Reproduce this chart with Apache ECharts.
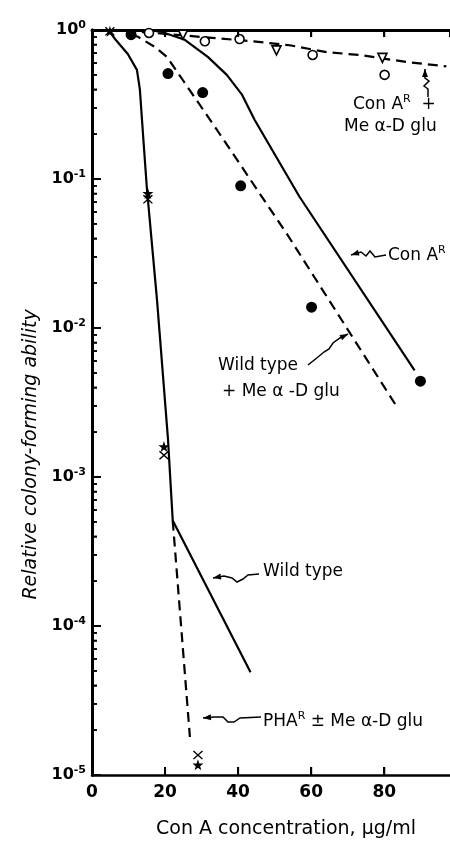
<!DOCTYPE html>
<html>
<head>
<meta charset="utf-8">
<script src="https://cdn.jsdelivr.net/npm/echarts@6/dist/echarts.min.js"></script>
<style>
  html, body { margin: 0; background: #fff; }
  #chart { width: 450px; height: 844px; }
</style>
</head>
<body>
<div id="chart"></div>
<script>
// values: [Con A ug/ml, relative colony-forming ability]
const wildTypeCurve = [[4.9, 0.97], [6.3, 0.87], [9.8, 0.69], [12.3, 0.54], [13.1, 0.40], [13.9, 0.21], [15.0, 0.088], [17.8, 0.0154], [20.8, 0.0018], [22.1, 0.00051], [43.4, 0.000049]];
const phaCurve = [[22.1, 0.00051], [26.8, 0.000018]];
const wildMeCurve = [[10.7, 0.93], [12.6, 0.90], [17.2, 0.77], [20.5, 0.66], [24.9, 0.46], [34.4, 0.21], [53.3, 0.043], [83.3, 0.0030]];
const conACurve = [[15.6, 1.0], [19.1, 0.97], [25.4, 0.86], [31.7, 0.66], [36.9, 0.50], [41.0, 0.37], [44.5, 0.25], [56.8, 0.076], [88.3, 0.0052]];
const conAMeCurve = [[4.9, 1.0], [16, 0.96], [29.5, 0.90], [44, 0.84], [54.1, 0.79], [64.2, 0.71], [73.2, 0.68], [86.1, 0.61], [97, 0.57]];

const openCircles = [[15.6, 0.955], [30.9, 0.84], [40.4, 0.87], [60.4, 0.68], [80.1, 0.50]];
const openTriangles = [[24.9, 0.93], [50.5, 0.73], [79.5, 0.65]];
const filledCircles = [[10.7, 0.93], [20.8, 0.51], [30.3, 0.38], [40.7, 0.090], [60.1, 0.0138], [89.9, 0.0044]];
const wildTypeX = [[4.9, 0.98], [15.3, 0.073], [19.7, 0.0014], [29.0, 0.0000136]];
const phaStars = [[4.9, 0.98], [15.3, 0.080], [19.7, 0.0016], [29.0, 0.0000117]];

const xTicks = [0, 20, 40, 60, 80];
const yTicks = [1e-5, 1e-4, 1e-3, 1e-2, 1e-1, 1];
const xMin = 0, xMax = 98, xStep = 20;
const yMin = 1e-5, yMax = 1;

// minor ticks 2..9 in every decade
const minorTicks = [];
for (let d = -5; d < 0; d++) {
    for (let m = 2; m <= 9; m++) minorTicks.push(m * Math.pow(10, d));
}

const font = 'DejaVu Sans';
const black = '#000';

function lineSeries(data, dashed) {
    return {
        type: 'line', data: data, showSymbol: false, silent: true, z: 2,
        lineStyle: { color: black, width: 2.2, type: dashed ? [10, 6] : 'solid' }
    };
}

function scatterSeries(data, symbol, size, fill, extra) {
    return Object.assign({
        type: 'scatter', data: data, symbol: symbol, symbolSize: size, z: 4, silent: true,
        itemStyle: { color: fill, borderColor: black, borderWidth: fill === '#fff' ? 1.6 : 0, opacity: 1 }
    }, extra || {});
}

// squiggly pointer arrows, tip first
function arrow(pts) {
    const [tx, ty] = pts[0], [nx, ny] = pts[1];
    const len = Math.hypot(tx - nx, ty - ny);
    const ux = (tx - nx) / len, uy = (ty - ny) / len;
    const bx = tx - ux * 8, by = ty - uy * 8;
    return [
        { type: 'polyline', silent: true, z: 10, shape: { points: pts }, style: { stroke: black, lineWidth: 1.5, fill: null } },
        { type: 'polygon', silent: true, z: 10, shape: { points: [[tx, ty], [bx - uy * 3, by + ux * 3], [bx + uy * 3, by - ux * 3]] }, style: { fill: black } }
    ];
}

const rich = {
    n: { fontFamily: font, fontSize: 17, lineHeight: 22, color: black },
    s: { fontFamily: font, fontSize: 11, lineHeight: 12, verticalAlign: 'top', color: black }
};

function label(x, y, text) {
    return { type: 'text', x: x, y: y, silent: true, z: 10, style: { text: text, rich: rich, verticalAlign: 'middle', fill: black } };
}

const annotations = [
    label(353, 105, '{n|Con A}{s|R}{n|  +}'),
    label(344, 127, '{n|Me α-D glu}'),
    label(388, 256, '{n|Con A}{s|R}'),
    label(218, 366, '{n|Wild type}'),
    label(222, 392, '{n|+ Me α -D glu}'),
    label(263, 572, '{n|Wild type}'),
    label(263, 722, '{n|PHA}{s|R}{n| ± Me α-D glu}'),
    ...arrow([[425, 69], [425, 78], [429, 81], [424, 86], [428, 89], [428, 97]]),
    ...arrow([[351, 255], [361, 252], [366, 256], [370, 251], [375, 257], [386, 255]]),
    ...arrow([[348, 334], [340, 338], [333, 343], [329, 349], [324, 352], [318, 357], [308, 365]]),
    ...arrow([[213, 578], [224, 576], [232, 578], [237, 582], [243, 579], [248, 575], [259, 574]]),
    ...arrow([[203, 718], [214, 717], [223, 717], [228, 722], [234, 722], [240, 718], [261, 717]])
];

const chart = echarts.init(document.getElementById('chart'));

chart.setOption({
    animation: false,
    backgroundColor: '#fff',
    grid: { left: 92, right: 0, top: 30, bottom: 69 },
    xAxis: [{
        type: 'value', min: xMin, max: xMax, interval: xStep, position: 'bottom',
        name: 'Con A concentration, µg/ml', nameLocation: 'middle', nameGap: 45,
        nameTextStyle: { fontFamily: font, fontSize: 19, color: black, padding: [0, 0, 0, 30] },
        axisLine: { show: true, onZero: false, lineStyle: { color: black, width: 2.5 } },
        axisTick: { show: true, inside: true, length: 8, lineStyle: { color: black, width: 2 } },
        axisLabel: {
            showMaxLabel: false, color: black, fontFamily: font, fontWeight: 'bold', fontSize: 17, margin: 9,
            formatter: v => (xTicks.indexOf(v) >= 0 ? String(v) : '')
        },
        splitLine: { show: false }
    }, {
        type: 'value', min: xMin, max: xMax, interval: xStep, position: 'top',
        axisLine: { show: true, onZero: false, lineStyle: { color: black, width: 3 } },
        axisTick: { show: true, inside: true, length: 7, lineStyle: { color: black, width: 2 } },
        axisLabel: { show: false },
        splitLine: { show: false }
    }],
    yAxis: [{
        type: 'log', logBase: 10, min: yMin, max: yMax, position: 'left',
        name: 'Relative colony-forming ability', nameLocation: 'middle', nameGap: 46, nameRotate: 90,
        nameTextStyle: { fontFamily: font, fontStyle: 'italic', fontSize: 19, color: black, padding: [0, 104, 0, 0] },
        axisLine: { show: true, onZero: false, lineStyle: { color: black, width: 3 } },
        axisTick: { show: true, inside: true, length: 9, lineStyle: { color: black, width: 2 } },
        axisLabel: {
            margin: 6,
            formatter: function (v) {
                return '{b|10}{s|' + Math.round(Math.log10(v)) + '}';
            },
            rich: {
                b: { fontFamily: font, fontWeight: 'bold', fontSize: 16, lineHeight: 20, color: black },
                s: { fontFamily: font, fontWeight: 'bold', fontSize: 11, lineHeight: 12, verticalAlign: 'top', color: black }
            }
        },
        splitLine: { show: false }
    }, {
        type: 'log', logBase: 10, min: yMin, max: yMax, position: 'left', offset: 0,
        axisLine: { show: true, onZero: false, lineStyle: { color: black, width: 3 } },
        axisTick: { show: true, inside: true, length: 5, customValues: minorTicks, lineStyle: { color: black, width: 1.5 } },
        axisLabel: { show: false },
        splitLine: { show: false }
    }],
    series: [
        lineSeries(wildTypeCurve, false),
        lineSeries(phaCurve, true),
        lineSeries(wildMeCurve, true),
        lineSeries(conACurve, false),
        lineSeries(conAMeCurve, true),
        scatterSeries(openCircles, 'circle', 9, '#fff'),
        scatterSeries(openTriangles, 'triangle', 9, '#fff', { symbolRotate: 180 }),
        scatterSeries(filledCircles, 'circle', 11, black),
        scatterSeries(wildTypeX, 'path://M0,1 L1,0 L5,4 L9,0 L10,1 L6,5 L10,9 L9,10 L5,6 L1,10 L0,9 L4,5 Z', [10, 9], black),
        scatterSeries(phaStars, 'path://M5,0 L6.2,3.6 L10,3.6 L7,5.9 L8.1,9.5 L5,7.3 L1.9,9.5 L3,5.9 L0,3.6 L3.8,3.6 Z', 11, black)
    ],
    graphic: annotations
});

// tick marks again, placed through the axes' own scales, in case the axis ticks get dropped
try {
    const tick = (x1, y1, x2, y2, w) => ({ type: 'line', silent: true, z: 9, shape: { x1: x1, y1: y1, x2: x2, y2: y2 }, style: { stroke: black, lineWidth: w } });
    const x0 = chart.convertToPixel({ xAxisIndex: 0 }, xMin);
    const yTopPx = chart.convertToPixel({ yAxisIndex: 0 }, yMax);
    const yBotPx = chart.convertToPixel({ yAxisIndex: 0 }, yMin);
    const tickEls = [];
    yTicks.forEach(v => {
        const py = chart.convertToPixel({ yAxisIndex: 0 }, v);
        tickEls.push(tick(x0, py, x0 + 9, py, 2));
    });
    minorTicks.forEach(v => {
        const py = chart.convertToPixel({ yAxisIndex: 0 }, v);
        tickEls.push(tick(x0, py, x0 + 5, py, 1.5));
    });
    xTicks.forEach(v => {
        const px = chart.convertToPixel({ xAxisIndex: 0 }, v);
        tickEls.push(tick(px, yBotPx, px, yBotPx - 8, 2));
        tickEls.push(tick(px, yTopPx, px, yTopPx + 7, 2));
    });
    chart.setOption({ graphic: annotations.concat(tickEls) });
} catch (e) {
    console.log(e);
}
</script>
</body>
</html>
